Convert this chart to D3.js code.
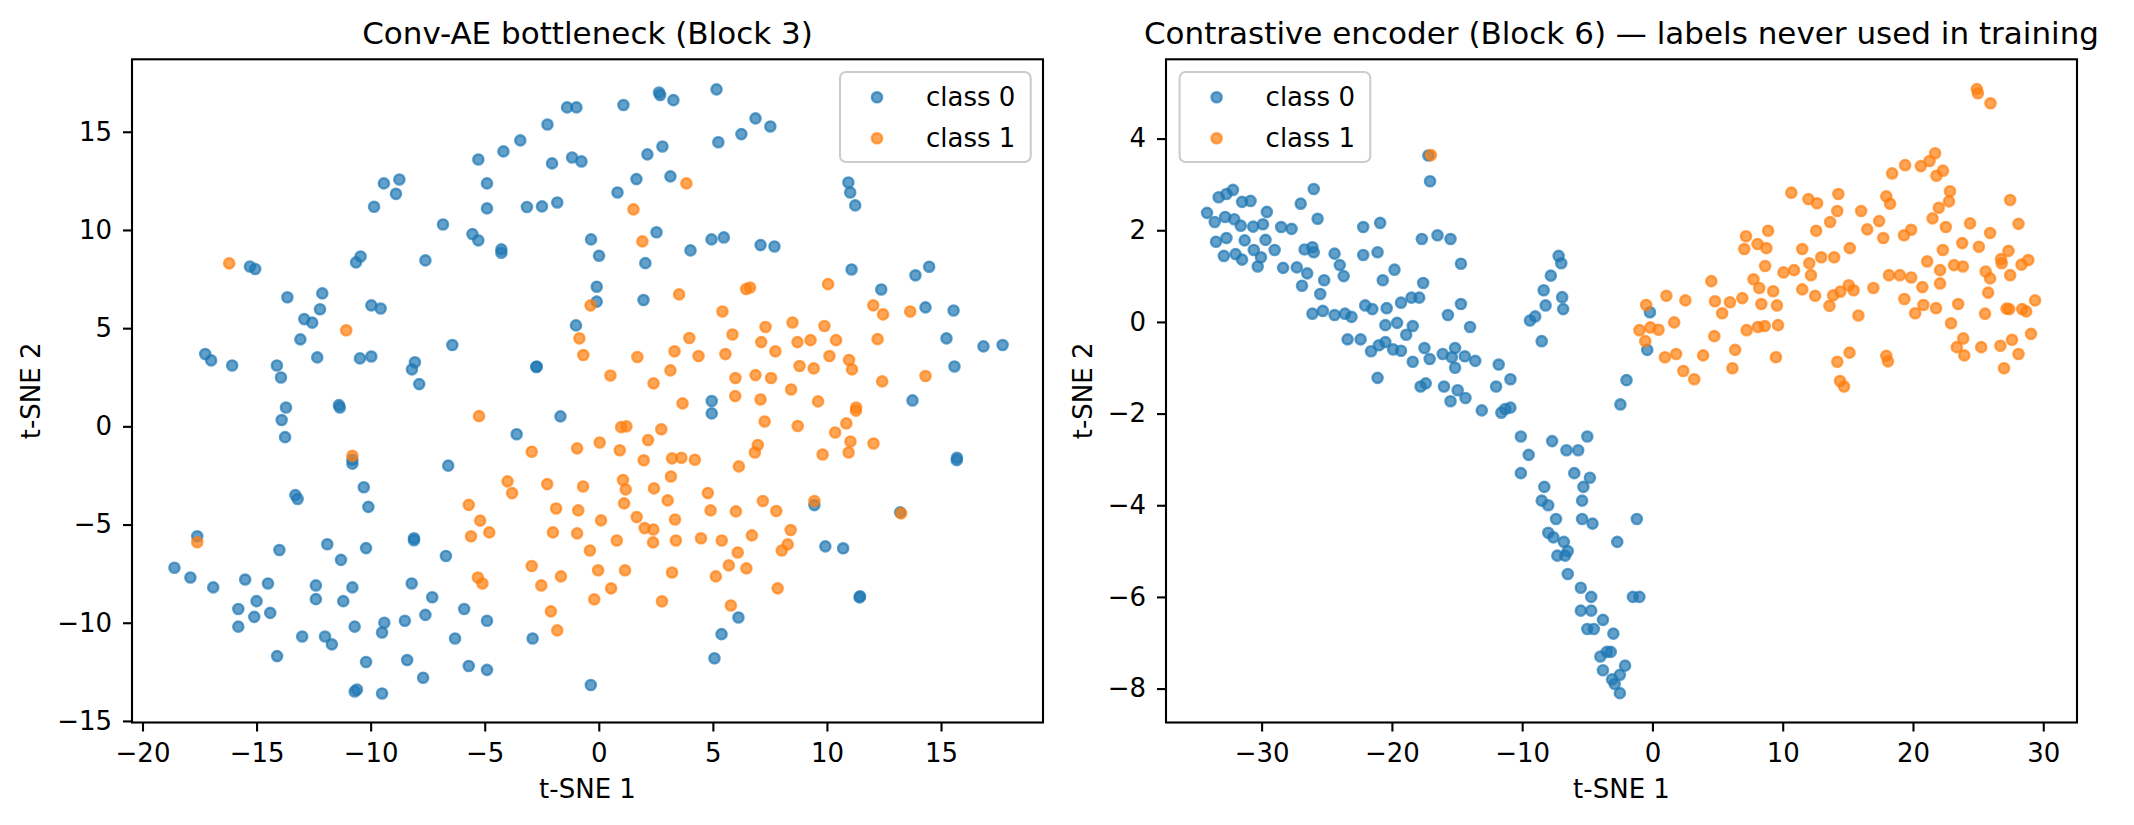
<!DOCTYPE html>
<html>
<head>
<meta charset="utf-8">
<script src="https://cdn.jsdelivr.net/npm/d3@7"></script>
<style>
  body { margin: 0; background: #fff; }
  text { font-family: "DejaVu Sans", sans-serif; fill: #000; }
</style>
</head>
<body>
<svg id="chart" width="2134" height="825"></svg>
<script>
// t-SNE points, class 0 / class 1, left panel
var leftClass0 = [
  [-1.39,16.24],[-0.98,16.24],[-2.25,15.37],[-3.44,14.56],[-4.18,14.0],[-5.28,13.59],[-4.9,12.37],[-4.9,11.1],
  [-2.05,13.39],[-1.17,13.69],[-0.76,13.49],[-3.15,11.17],[-2.49,11.2],[-1.82,11.4],[-0.34,9.52],[0.01,8.69],
  [-0.09,7.11],[-0.09,6.35],[-1.0,5.14],[-2.74,3.02],[-2.72,3.05],[-1.68,0.51],[-5.54,9.79],[-5.28,9.47],
  [-4.27,9.01],[-4.27,8.84],[-6.83,10.28],[-7.6,8.45],[-8.74,12.57],[-9.42,12.37],[-8.89,11.84],[-9.85,11.18],
  [-10.64,8.35],[-10.44,8.65],[-15.06,8.01],[-15.29,8.14],[-13.65,6.57],[-12.12,6.77],[-12.22,5.96],[-12.91,5.46],
  [-12.56,5.28],[-9.97,6.16],[-9.56,6.0],[-13.08,4.43],[-12.34,3.51],[-10.47,3.46],[-9.97,3.56],[-6.42,4.14],
  [-8.06,3.26],[-8.19,2.9],[-7.87,2.15],[-17.25,3.68],[-16.99,3.36],[-16.07,3.1],[-14.11,3.1],[-13.93,2.49],
  [-13.71,0.96],[-11.39,1.08],[-11.35,0.96],[-13.9,0.32],[-13.75,-0.55],
  [1.08,16.36],[2.64,17.0],[2.69,16.87],[3.27,16.61],[5.16,17.16],[6.87,15.68],[7.52,15.27],[6.25,14.88],
  [5.24,14.47],[2.79,14.25],[2.13,13.85],[1.65,12.59],[3.14,12.73],[0.82,11.91],[2.53,9.88],[2.04,8.31],
  [4.02,8.96],[4.94,9.52],[5.48,9.62],[7.09,9.23],[7.7,9.16],[1.96,6.43],[10.94,12.42],[11.02,11.91],
  [11.24,11.25],[11.08,7.99],[12.38,6.97],[13.88,7.69],[14.48,8.13],[14.32,6.06],[15.55,5.9],[15.24,4.48],
  [16.86,4.07],[17.7,4.14],[15.59,3.05],[13.75,1.32],[4.95,1.29],[4.95,0.66],
  [-3.6,-0.4],[-6.6,-2.0],[-10.8,-1.9],[-10.8,-1.7],[15.69,-1.72],[15.7,-1.6],
  [-13.3,-3.5],[-13.2,-3.7],[-10.3,-3.1],[-10.1,-4.1],[9.45,-4.01],[13.21,-4.38],[-17.6,-5.6],[-11.9,-6.0],
  [-8.1,-5.7],[-8.1,-5.8],[-11.3,-6.8],[-10.2,-6.2],[-14.0,-6.3],[-6.7,-6.6],[9.93,-6.11],[10.71,-6.21],
  [-18.6,-7.2],[-17.9,-7.7],[-16.9,-8.2],[-15.5,-7.8],[-14.5,-8.0],[-12.4,-8.1],[-10.8,-8.2],[-8.2,-8.0],
  [-7.3,-8.7],[-15.0,-8.9],[-12.4,-8.8],[-11.2,-8.9],[-15.8,-9.3],[-15.1,-9.7],[-14.4,-9.5],[-15.8,-10.2],
  [-9.4,-10.0],[-8.5,-9.9],[-7.6,-9.6],[-5.9,-9.3],[-4.9,-9.9],[-10.7,-10.2],[-9.5,-10.5],[-13.0,-10.7],
  [-12.0,-10.7],[-11.7,-11.1],[-6.3,-10.8],[-2.9,-10.8],[6.12,-9.73],[5.38,-10.58],[11.43,-8.71],[11.45,-8.65],
  [-14.1,-11.7],[-10.2,-12.0],[-8.4,-11.9],[-7.7,-12.8],[-5.7,-12.2],[-4.9,-12.4],[5.07,-11.81],[-10.7,-13.5],
  [-10.6,-13.4],[-9.5,-13.6],[-0.35,-13.17]
];
var leftClass1 = [
  [-16.2,8.3],[-11.07,4.89],[-0.36,6.16],[-0.85,4.48],[-0.68,3.63],[-5.25,0.52],
  [3.84,12.37],[1.52,11.05],[1.91,9.42],[3.52,6.72],[6.46,6.99],[6.63,7.07],[10.05,7.24],[5.42,5.85],
  [12.03,6.16],[12.46,5.7],[13.65,5.85],[3.97,4.5],[5.86,4.68],[7.31,5.06],[8.49,5.29],[9.89,5.11],
  [7.12,4.29],[8.71,4.29],[9.28,4.39],[10.4,4.39],[12.22,4.44],[3.32,3.82],[4.37,3.58],[5.55,3.68],
  [7.74,3.82],[10.11,3.58],[10.97,3.38],[11.1,2.9],[1.69,3.53],[0.51,2.59],[2.4,2.19],[3.14,2.85],
  [5.99,2.46],[6.87,2.61],[7.55,2.46],[8.8,3.07],[9.42,2.95],[14.32,2.56],[12.42,2.29],[8.43,1.88],
  [3.67,1.17],[5.98,1.54],[7.09,1.37],[9.61,1.27],[11.28,0.96],[7.27,0.25],[8.72,0.02],[11.27,0.8],[10.85,0.15],
  [-2.94,-1.29],[-0.95,-1.12],[0.04,-0.82],[0.92,-1.22],[0.98,-0.04],[1.21,0.0],[2.16,-0.7],[2.74,-0.15],
  [1.97,-1.73],[3.21,-1.63],[3.62,-1.6],[4.21,-1.7],[10.36,-0.31],[11.03,-0.77],[10.95,-1.33],[12.04,-0.87],
  [6.97,-0.95],[6.84,-1.33],[9.81,-1.43],[6.14,-2.04],[-2.26,-2.94],[-0.69,-3.06],[1.06,-2.73],[1.18,-3.21],
  [2.42,-3.16],[3.16,-2.55],[3.02,-3.77],[1.11,-3.92],[4.78,-3.4],[-1.87,-4.18],[-0.9,-4.28],[0.1,-4.79],
  [1.66,-4.62],[3.34,-4.74],[4.9,-4.28],[6.01,-4.33],[7.19,-3.8],[7.78,-4.31],[9.45,-3.8],[13.25,-4.43],
  [-2.01,-5.4],[-0.95,-5.45],[0.79,-5.81],[2.01,-5.18],[2.39,-5.25],[2.38,-5.91],[3.38,-5.81],[4.48,-5.7],
  [5.39,-5.81],[6.71,-5.55],[8.41,-5.28],[8.28,-6.01],[8.02,-6.32],[6.09,-6.42],[-0.39,-6.32],[-2.94,-7.11],
  [-0.03,-7.33],[1.15,-7.33],[-1.66,-7.64],[-2.52,-8.1],[3.21,-7.44],[5.13,-7.64],[5.7,-7.08],[6.47,-7.23],
  [7.84,-8.25],[0.54,-8.25],[-0.2,-8.81],[2.77,-8.91],[5.79,-9.12],[-2.1,-9.42],[-1.82,-10.39],
  [-4.0,-2.8],[-3.8,-3.4],[-5.7,-4.0],[-5.2,-4.8],[-5.6,-5.6],[-4.8,-5.4],[-5.3,-7.7],[-5.1,-8.0],
  [-10.8,-1.5],[-17.6,-5.9]
];

// right panel
var rightClass0 = [
  [-34.19,2.38],[-33.6,2.18],[-33.3,2.72],[-32.7,2.79],[-32.2,2.88],[-32.8,2.29],[-32.1,2.24],[-31.6,2.1],
  [-31.5,2.62],[-30.85,2.64],[-29.6,2.4],[-30.65,2.08],[-29.9,2.13],[-33.5,1.75],[-32.7,1.83],[-32.9,1.44],
  [-32.0,1.48],[-31.5,1.36],[-31.3,1.78],[-30.6,1.57],[-30.05,1.41],[-30.3,1.21],[-29.7,1.79],[-29.0,1.57],
  [-28.35,1.18],[-28.5,2.07],[-27.7,2.03],[-27.3,1.19],[-27.0,2.58],[-26.7,1.58],[-26.1,1.63],[-26.0,1.52],
  [-26.0,2.9],[-25.7,2.25],[-26.5,1.06],[-26.9,0.79],[-25.2,0.91],[-25.5,0.61],[-24.4,1.49],[-24.0,1.24],
  [-23.7,1.0],[-26.1,0.18],[-25.3,0.24],[-24.4,0.15],[-23.6,0.18],[-23.1,0.11],[-22.2,2.07],[-20.9,2.16],
  [-22.2,1.46],[-21.1,1.52],[-19.8,1.14],[-20.7,0.91],[-22.05,0.36],[-21.5,0.28],[-20.4,0.3],[-19.3,0.42],
  [-18.5,0.53],[-17.9,0.53],[-17.6,0.85],[-17.7,1.81],[-16.5,1.89],[-15.5,1.81],[-14.7,1.27],[-17.2,3.63],
  [-17.07,3.07],[-20.5,-0.07],[-19.6,-0.02],[-18.4,-0.09],[-18.9,-0.28],[-23.4,-0.38],[-22.4,-0.38],[-21.6,-0.64],
  [-21.0,-0.51],[-20.5,-0.44],[-19.9,-0.6],[-19.3,-0.63],[-18.4,-0.87],[-17.5,-0.57],[-17.1,-0.81],[-16.1,-0.7],
  [-15.4,-0.77],[-15.15,-0.57],[-15.15,-1.0],[-14.4,-0.75],[-13.6,-0.85],[-15.7,0.15],[-14.7,0.39],[-14.0,-0.11],
  [-21.1,-1.22],[-17.8,-1.41],[-17.4,-1.34],[-16.0,-1.41],[-14.95,-1.49],[-15.5,-1.73],[-14.35,-1.66],[-13.1,-1.93],
  [-11.8,-0.93],[-10.9,-1.25],[-12.0,-1.41],[-11.6,-1.98],[-11.3,-1.9],[-10.9,-1.87],[-9.4,0.03],[-9.0,0.12],
  [-8.5,-0.42],[-8.35,0.69],[-8.2,0.36],[-7.8,1.01],[-7.2,1.44],[-7.0,1.28],[-6.93,0.54],[-6.85,0.28],
  [-0.19,0.21],[-0.4,-0.61],[-1.99,-1.27],[-2.46,-1.8],
  [-10.1,-2.5],[-9.5,-2.9],[-10.1,-3.3],[-7.7,-2.6],[-6.6,-2.8],[-5.7,-2.8],[-5.0,-2.5],[-8.3,-3.6],
  [-6.0,-3.3],[-5.3,-3.6],[-4.8,-3.4],[-5.4,-3.9],[-8.5,-3.9],[-8.0,-4.0],[-7.4,-4.3],[-5.4,-4.3],
  [-4.6,-4.4],[-1.2,-4.3],[-8.0,-4.6],[-7.6,-4.7],[-6.8,-4.8],[-6.5,-5.0],[-6.7,-5.1],[-7.3,-5.1],
  [-2.7,-4.8],[-6.5,-5.5],[-5.5,-5.8],[-4.7,-6.0],[-5.5,-6.3],[-4.7,-6.3],[-1.5,-6.0],[-1.0,-6.0],
  [-3.8,-6.5],[-5.0,-6.7],[-4.5,-6.7],[-3.0,-6.8],[-3.2,-7.2],[-4.0,-7.3],[-3.5,-7.2],[-2.1,-7.5],
  [-3.8,-7.6],[-2.5,-7.7],[-2.9,-7.9],[-2.5,-8.1],[-3.1,-7.8]
];
var rightClass1 = [
  [-17.0,3.64],
  [24.9,5.08],[24.98,4.99],[25.95,4.77],[21.7,3.68],[21.27,3.51],[20.6,3.4],[19.4,3.42],[18.4,3.24],
  [22.3,3.3],[21.8,3.19],[10.66,2.82],[11.97,2.68],[12.64,2.59],[14.27,2.79],[14.19,2.42],[16.02,2.42],
  [17.95,2.74],[18.24,2.58],[22.84,2.85],[22.76,2.63],[21.98,2.49],[21.5,2.26],[27.46,2.66],[28.1,2.14],
  [13.64,2.18],[12.57,1.99],[17.4,2.2],[16.49,2.02],[17.72,1.83],[19.31,1.89],[19.86,2.01],[22.52,2.07],
  [24.38,2.15],[25.92,1.94],[23.78,1.72],[25.06,1.64],[22.29,1.57],[7.18,1.87],[8.88,1.99],[7.05,1.59],
  [8.07,1.7],[8.75,1.61],[11.5,1.59],[15.15,1.61],[12.96,1.41],[13.95,1.41],[12.04,1.28],[8.65,1.22],
  [10.06,1.08],[10.87,1.13],[12.17,1.02],[21.09,1.32],[23.15,1.24],[23.83,1.21],[22.08,1.13],[26.76,1.37],
  [26.81,1.28],[27.33,1.55],[28.33,1.25],[28.85,1.35],[25.58,1.1],[25.92,0.95],[27.46,1.02],[18.16,1.02],
  [18.99,1.02],[19.86,0.97],[22.08,0.84],[20.72,0.76],[25.77,0.64],[4.52,0.89],[7.76,0.93],[8.2,0.74],
  [9.27,0.67],[11.5,0.71],[15.07,0.8],[14.42,0.66],[13.87,0.58],[15.44,0.69],[16.96,0.74],[12.49,0.57],
  [1.07,0.57],[2.53,0.47],[4.8,0.45],[5.95,0.43],[6.9,0.52],[8.36,0.39],[9.56,0.36],[13.59,0.35],
  [19.34,0.5],[20.8,0.37],[23.47,0.39],[20.17,0.19],[21.77,0.3],[27.18,0.29],[27.39,0.28],[28.38,0.28],
  [28.69,0.23],[29.37,0.47],[25.53,0.18],[-0.48,0.37],[5.35,0.19],[15.81,0.14],[22.92,-0.03],[1.67,-0.01],
  [-1.0,-0.18],[-0.16,-0.12],[0.47,-0.17],[-0.55,-0.42],[7.23,-0.18],[8.1,-0.11],[8.62,-0.09],[9.64,-0.07],
  [4.75,-0.31],[29.06,-0.26],[23.86,-0.36],[23.36,-0.55],[23.94,-0.73],[25.24,-0.55],[26.71,-0.52],[27.6,-0.39],
  [28.1,-0.7],[26.99,-1.01],[0.96,-0.77],[1.82,-0.7],[3.89,-0.73],[6.35,-0.61],[9.48,-0.77],[6.14,-1.01],
  [2.37,-1.07],[3.21,-1.25],[15.13,-0.67],[14.19,-0.87],[17.95,-0.74],[18.08,-0.86],[14.4,-1.29],[14.71,-1.41]
];

// ticks
var leftXTicks = [-20, -15, -10, -5, 0, 5, 10, 15];
var leftYTicks = [-15, -10, -5, 0, 5, 10, 15];
var rightXTicks = [-30, -20, -10, 0, 10, 20, 30];
var rightYTicks = [-8, -6, -4, -2, 0, 2, 4];

var classNames = ["class 0", "class 1"];
var colors = ["#1f77b4", "#ff7f0e"];

var svg = d3.select("#chart");
var fmt = d => (d < 0 ? "\u2212" + Math.abs(d) : String(d));

// one panel: box, axes, points, legend
function panel(opt) {
  var x = d3.scaleLinear().domain(opt.xDomain).range([opt.left, opt.right]);
  var y = d3.scaleLinear().domain(opt.yDomain).range([opt.bottom, opt.top]);
  var g = svg.append("g");

  var xAxis = g.append("g")
    .attr("transform", "translate(0," + opt.bottom + ")")
    .call(d3.axisBottom(x).tickValues(opt.xTicks).tickFormat(fmt).tickSize(9).tickPadding(12));
  var yAxis = g.append("g")
    .attr("transform", "translate(" + opt.left + ",0)")
    .call(d3.axisLeft(y).tickValues(opt.yTicks).tickFormat(fmt).tickSize(9).tickPadding(11));
  [xAxis, yAxis].forEach(a => {
    a.select(".domain").remove();
    a.selectAll(".tick line").attr("stroke", "#000").attr("stroke-width", 2.1);
    a.selectAll(".tick text").attr("font-size", 26).attr("font-family", "DejaVu Sans");
  });

  // scatter, class 0 first so class 1 sits on top
  [opt.c0, opt.c1].forEach((pts, i) => {
    g.append("g").selectAll("circle").data(pts).enter()
      .append("circle")
        .attr("cx", d => x(d[0]))
        .attr("cy", d => y(d[1]))
        .attr("r", 5.1)
        .attr("fill", colors[i]).attr("fill-opacity", 0.7)
        .attr("stroke", colors[i]).attr("stroke-opacity", 0.7)
        .attr("stroke-width", 2.4);
  });

  // frame
  g.append("rect")
    .attr("x", opt.left).attr("y", opt.top)
    .attr("width", opt.right - opt.left).attr("height", opt.bottom - opt.top)
    .attr("fill", "none").attr("stroke", "#000").attr("stroke-width", 2.1);

  // title and labels
  g.append("text")
    .attr("x", (opt.left + opt.right) / 2).attr("y", 44)
    .attr("text-anchor", "middle").attr("font-size", 31)
    .text(opt.title);
  g.append("text")
    .attr("x", (opt.left + opt.right) / 2).attr("y", 798)
    .attr("text-anchor", "middle").attr("font-size", 26)
    .text("t-SNE 1");
  g.append("text")
    .attr("transform", "translate(" + opt.yLabelX + "," + (opt.top + opt.bottom) / 2 + ") rotate(-90)")
    .attr("text-anchor", "middle").attr("font-size", 26)
    .text("t-SNE 2");

  // legend
  var lg = g.append("g").attr("transform", "translate(" + opt.legendX + "," + (opt.top + 12.7) + ")");
  lg.append("rect")
    .attr("width", 190.7).attr("height", 90).attr("rx", 6)
    .attr("fill", "#fff").attr("fill-opacity", 0.8)
    .attr("stroke", "#cccccc").attr("stroke-width", 2.1);
  classNames.forEach((name, i) => {
    var cy = 25.3 + i * 41;
    lg.append("circle")
      .attr("cx", 37).attr("cy", cy).attr("r", 5.1)
      .attr("fill", colors[i]).attr("fill-opacity", 0.7)
      .attr("stroke", colors[i]).attr("stroke-opacity", 0.7).attr("stroke-width", 2.4);
    lg.append("text")
      .attr("x", 86).attr("y", cy).attr("dy", "0.35em")
      .attr("font-size", 26)
      .text(name);
  });
}

panel({
  left: 132, right: 1043, top: 59.3, bottom: 722.5,
  xDomain: [-20.46, 19.47], yDomain: [-15.08, 18.69],
  xTicks: leftXTicks, yTicks: leftYTicks,
  c0: leftClass0, c1: leftClass1,
  title: "Conv-AE bottleneck (Block 3)",
  yLabelX: 40, legendX: 1043 - 12.3 - 190.7
});

panel({
  left: 1166, right: 2077, top: 59.3, bottom: 722.5,
  xDomain: [-37.34, 32.59], yDomain: [-8.74, 5.73],
  xTicks: rightXTicks, yTicks: rightYTicks,
  c0: rightClass0, c1: rightClass1,
  title: "Contrastive encoder (Block 6) \u2014 labels never used in training",
  yLabelX: 1092, legendX: 1166 + 13.6
});
</script>
</body>
</html>
